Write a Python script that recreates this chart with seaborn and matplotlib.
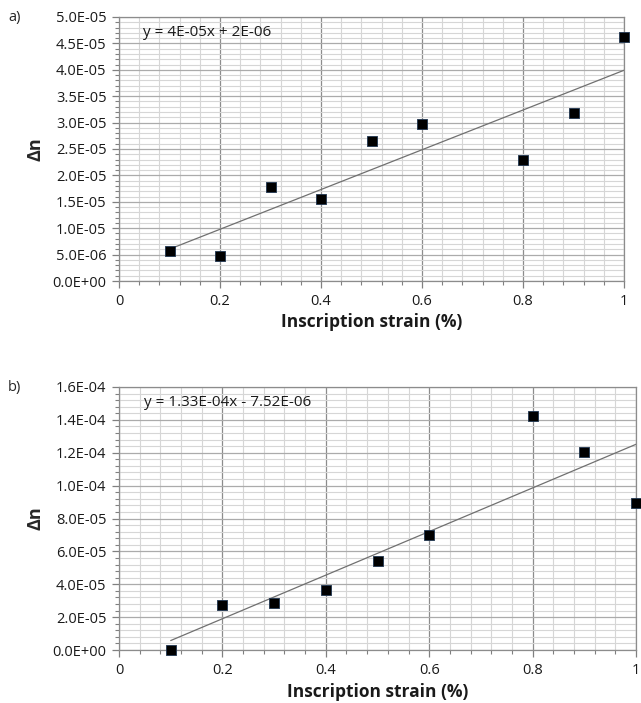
import numpy as np
import pandas as pd
import matplotlib
matplotlib.use("Agg")
import matplotlib.pyplot as plt
import seaborn as sns
from matplotlib.ticker import MultipleLocator, FuncFormatter

# ---- data ----
strain = [0.1, 0.2, 0.3, 0.4, 0.5, 0.6, 0.8, 0.9, 1.0]
dn_a = [5.7e-6, 4.8e-6, 17.8e-6, 15.6e-6, 26.6e-6, 29.7e-6, 22.9e-6, 31.8e-6, 46.2e-6]
dn_b = [0.0, 27.4e-6, 28.8e-6, 36.3e-6, 54.1e-6, 70.0e-6, 142.5e-6, 120.4e-6, 89.6e-6]
eq_a = "y = 4E-05x + 2E-06"
eq_b = "y = 1.33E-04x - 7.52E-06"
panel_labels = ["a)", "b)"]
xlabel = "Inscription strain (%)"
ylabel = "Δn"

sns.set_style("white")
plt.rcParams['font.family'] = ['Open Sans', 'DejaVu Sans']

fig = plt.figure(figsize=(6.41, 7.03), dpi=100)
W, H = 641, 703

def add_ax(l, r, t, b):
    return fig.add_axes([l / W, (H - b) / H, (r - l) / W, (b - t) / H])

ax_a = add_ax(119, 624, 17, 281)
ax_b = add_ax(119, 636, 387, 650)

specs = [
    (ax_a, dn_a, eq_a, 5e-5, 5e-6, 1e-6, panel_labels[0], 10, 322),
    (ax_b, dn_b, eq_b, 1.6e-4, 2e-5, 4e-6, panel_labels[1], 380, 692),
]

for ax, ys, eq, ymax, ymaj, ymin, plab, py, xly in specs:
    df = pd.DataFrame({"x": strain, "y": ys})
    ax.set_xlim(0, 1)
    ax.set_ylim(0, ymax)
    ax.xaxis.set_major_locator(MultipleLocator(0.2))
    ax.xaxis.set_minor_locator(MultipleLocator(0.04))
    ax.yaxis.set_major_locator(MultipleLocator(ymaj))
    ax.yaxis.set_minor_locator(MultipleLocator(ymin))
    ax.grid(which="minor", axis="both", color="#d6d6d6", linewidth=0.8)
    ax.grid(which="major", axis="y", color="#ababab", linewidth=0.9)
    ax.grid(which="major", axis="x", color="#8c8c8c", linewidth=0.9)
    ax.set_axisbelow(True)
    sns.regplot(data=df, x="x", y="y", ax=ax, scatter=False, ci=None,
                line_kws=dict(color="#707070", linewidth=0.9))
    sns.scatterplot(data=df, x="x", y="y", ax=ax, marker="s", s=48,
                    color="black", edgecolor="#1f3550", linewidth=0.6,
                    zorder=5, clip_on=False)
    ax.xaxis.set_major_formatter(FuncFormatter(lambda v, p: f"{v:g}"))
    ax.yaxis.set_major_formatter(FuncFormatter(lambda v, p: f"{v:.1E}"))
    ax.tick_params(axis="both", which="both", direction="out", color="#808080",
                   left=True, bottom=True, labelsize=10.5, labelcolor="#1a1a1a")
    ax.tick_params(which="major", length=5, width=0.9)
    ax.tick_params(which="minor", length=3, width=0.8)
    ax.tick_params(axis="x", pad=4)
    ax.tick_params(axis="y", pad=4)
    for s in ax.spines.values():
        s.set_color("#8c8c8c")
        s.set_linewidth(0.9)
    ax.set_xlabel("")
    ax.set_ylabel(ylabel, fontsize=13, fontweight="bold", labelpad=6)
    fig.text((119 + 636) / 2 / W if ax is ax_b else (119 + 624) / 2 / W,
             1 - xly / H, xlabel, fontsize=12.5, fontweight="bold",
             ha="center", va="center", color="#1a1a1a")
    ax.text(0.048, 0.94, eq, transform=ax.transAxes, fontsize=11,
            va="center", ha="left", color="#1a1a1a")
    fig.text(8 / W, 1 - (py + 8) / H, plab, fontsize=10.5, ha="left", va="center")

fig.savefig("out.png", dpi=100)
